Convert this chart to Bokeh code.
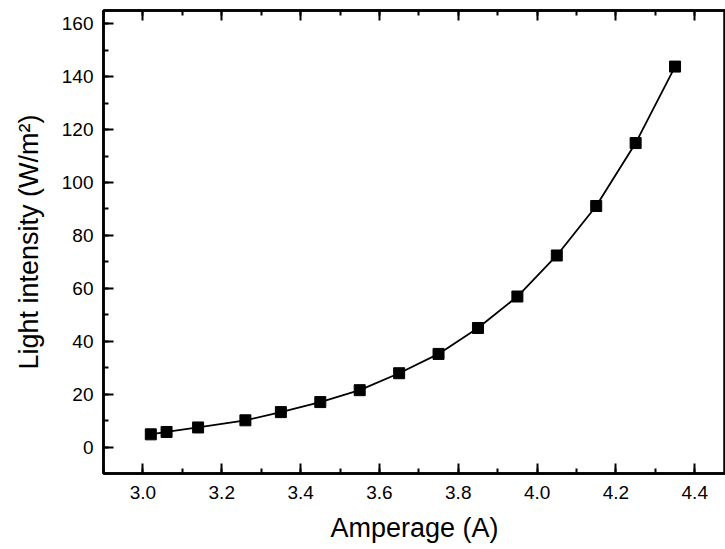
from bokeh.plotting import figure
from bokeh.models import LinearAxis, Range1d, SingleIntervalTicker, NumeralTickFormatter, CustomJSTickFormatter
from bokeh.embed import file_html
from bokeh.resources import INLINE

amperage = [3.02, 3.06, 3.14, 3.26, 3.35, 3.45, 3.55, 3.65, 3.75, 3.85, 3.95, 4.05, 4.15, 4.25, 4.35]
intensity = [4.8, 5.7, 7.4, 10.1, 13.2, 17.0, 21.5, 27.9, 35.2, 45.0, 56.9, 72.4, 91.1, 114.9, 143.8]

x_label = "Amperage (A)"
y_label = "Light intensity (W/m²)"

FONT = "Liberation Sans"

p = figure(width=725, height=549, output_backend="svg", toolbar_location=None,
           x_range=Range1d(2.9, 4.478), y_range=Range1d(-10, 165),
           min_border_left=103, min_border_right=0, min_border_top=10, min_border_bottom=76,
           x_axis_label=x_label, y_axis_label=y_label)
p.grid.visible = False
p.outline_line_color = "black"
p.outline_line_width = 2.5
p.background_fill_color = "white"
p.border_fill_color = "white"

p.xaxis.ticker = SingleIntervalTicker(interval=0.2, num_minor_ticks=2)
p.yaxis.ticker = SingleIntervalTicker(interval=20, num_minor_ticks=2)
p.xaxis.formatter = NumeralTickFormatter(format="0.0")


def style(ax, labels=True):
    ax.axis_line_width = 2.5
    ax.axis_line_color = "black"
    ax.major_tick_in = 10
    ax.major_tick_out = 0
    ax.minor_tick_in = 5
    ax.minor_tick_out = 0
    ax.major_tick_line_width = 2
    ax.minor_tick_line_width = 2
    ax.major_tick_line_color = "black"
    ax.minor_tick_line_color = "black"
    ax.major_label_text_font = FONT
    ax.major_label_text_font_size = "19px"
    ax.major_label_text_color = "black"
    ax.axis_label_text_font = FONT
    ax.axis_label_text_font_size = "27px"
    ax.axis_label_text_font_style = "normal"
    ax.axis_label_text_color = "black"
    if not labels:
        ax.formatter = CustomJSTickFormatter(code="return '';")
        ax.major_label_standoff = 0
        ax.axis_label = None


style(p.xaxis[0])
style(p.yaxis[0])
p.xaxis.major_label_standoff = 12
p.xaxis.axis_label_standoff = 11
p.yaxis.major_label_standoff = 10
p.yaxis.axis_label_standoff = 15

top = LinearAxis(ticker=SingleIntervalTicker(interval=0.2, num_minor_ticks=2))
style(top, labels=False)
p.add_layout(top, "above")

p.line(amperage, intensity, line_color="black", line_width=1.8)
p.scatter(amperage, intensity, marker="square", size=11, fill_color="black", line_color="black")

open("out.html", "w").write(file_html(p, INLINE))
